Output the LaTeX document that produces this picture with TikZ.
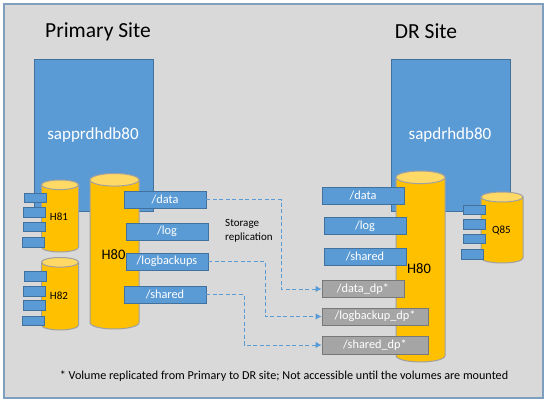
\documentclass[tikz,border=0pt]{standalone}
\usepackage{fontspec}
\setmainfont{Carlito}
\usetikzlibrary{arrows.meta}
\definecolor{hostblue}{HTML}{5B9BD5}
\definecolor{hostedge}{HTML}{41719C}
\definecolor{diskfill}{HTML}{FFC000}
\definecolor{disktop}{HTML}{FFD966}
\definecolor{diskedge}{HTML}{A0A0A0}
\definecolor{dpfill}{HTML}{A5A5A5}
\definecolor{dpedge}{HTML}{787878}
\definecolor{panelfill}{HTML}{D9D9D9}
\definecolor{paneledge}{HTML}{7F9FBF}
\definecolor{replline}{HTML}{5B9BD5}
\tikzset{
	hostbox/.style={draw=hostedge,fill=hostblue,line width=0.8pt,minimum width=119pt,minimum height=152pt,inner sep=0pt},
	diskbody/.style={draw=diskedge,fill=diskfill,line width=1pt},
	disktopface/.style={draw=diskedge,fill=disktop,line width=1pt},
	port/.style={draw=hostedge,fill=hostblue,line width=0.8pt,minimum width=22pt,minimum height=9.5pt,inner sep=0pt},
	volume/.style={draw=hostedge,fill=hostblue,line width=0.8pt,minimum width=82pt,minimum height=17pt,inner sep=0pt,text=white,font=\fontsize{12.3}{14}\selectfont},
	dpvol/.style={draw=dpedge,fill=dpfill,line width=0.8pt,minimum height=17pt,inner sep=0pt,text=white,font=\fontsize{12.3}{14}\selectfont},
	repl/.style={draw=replline,dash pattern=on 4pt off 2.5pt,line width=1pt,-{Latex[length=6pt,width=6.5pt,sep=0pt]}},
	heading/.style={font=\fontsize{21.5}{25}\selectfont,text=black,inner sep=0pt},
	disklabel/.style={font=\fontsize{11}{13}\selectfont,text=black,inner sep=0pt},
	biglabel/.style={font=\fontsize{14.5}{17}\selectfont,text=black,inner sep=0pt},
	hostname/.style={text=white,font=\fontsize{17}{20}\selectfont,inner sep=0pt},
}
% centre x, x radius, top y, bottom y, y radius of the ends
\newcommand{\drawdisk}[5]{
	\draw [diskbody] (#1-#2,#3+#5) -- (#1-#2,#4-#5) arc (180:0:#2 and #5) -- (#1+#2,#3+#5) -- cycle;
	\draw [disktopface] (#1,#3+#5) ellipse (#2 and #5);
}
\begin{document}
\begin{tikzpicture}[x=1pt,y=-1pt]
	\useasboundingbox (0,0) rectangle (548,404);
	\path [draw=paneledge,fill=panelfill,line width=1.2pt] (4,4) rectangle (543,398);
	\node [heading] (primary) at (98,31.5) {Primary Site};
	\node [heading] (drsite) at (426,31) {DR Site};
	\node [hostbox] (prdhost) at (93.5,135) {};
	\node [hostbox] (drhost) at (450.5,135) {};
	\node [hostname] (prdname) at (93,135) {sapprdhdb80};
	\node [hostname] (drname) at (450,135) {sapdrhdb80};
	% primary site disks
	\drawdisk{60}{18.5}{180}{252}{4.8}
	\drawdisk{60}{18.5}{257.5}{330}{4.8}
	\drawdisk{114.5}{24.5}{173.5}{329}{6.3}
	\foreach \n/\xx/\yy in {1/35/198,2/34/212.5,3/34/227,4/33/242.5}
		\node [port] (hostport\n) at (\xx,\yy) {};
	\foreach \n/\xx/\yy in {1/35/276.5,2/34/291.5,3/34/305.5,4/33/321}
		\node [port] (hostportb\n) at (\xx,\yy) {};
	\node [disklabel] (h81label) at (59,217) {H81};
	\node [disklabel] (h82label) at (59,296) {H82};
	\node [volume] (data) at (165,199.5) {/data};
	\node [volume] (log) at (167,231.5) {/log};
	\node [volume] (logbackups) at (167,261.5) {/logbackups};
	\node [volume] (shared) at (165,294.5) {/shared};
	\node [biglabel] (h80label) at (113.5,255) {H80};
	% DR site disks
	\drawdisk{420.5}{24.5}{171}{362}{6.3}
	\drawdisk{502}{21}{192}{263}{5}
	\foreach \n/\xx/\yy in {1/474.5/210,2/474.5/224.5,3/474.5/239,4/472.5/254.5}
		\node [port] (drport\n) at (\xx,\yy) {};
	\node [disklabel] (q85label) at (501.5,230) {Q85};
	\node [volume] (drdata) at (363,195.5) {/data};
	\node [volume] (drlog) at (365,226) {/log};
	\node [volume] (drshared) at (365,256.5) {/shared};
	\node [biglabel] (drh80label) at (419,269) {H80};
	\node [dpvol,minimum width=82pt] (datadp) at (363,289) {/data\_dp*};
	\node [dpvol,minimum width=106pt] (logdp) at (375,316.5) {/logbackup\_dp*};
	\node [dpvol,minimum width=106pt,minimum height=18pt] (shareddp) at (375,345) {/shared\_dp*};
	\draw [repl] (data.east) -| (281,289) -- (datadp.west);
	\draw [repl] (logbackups.east) -| (265,316.5) -- (logdp.west);
	\draw [repl] (shared.east) -| (244,345) -- (shareddp.west);
	\node [anchor=west,align=left,font=\fontsize{11}{14}\selectfont,inner sep=0pt] (storage) at (225,231) {Storage\\replication};
	\node [font=\fontsize{12.15}{14}\selectfont,inner sep=0pt] (footnote) at (284,376) {* Volume replicated from Primary to DR site; Not accessible until the volumes are mounted};
\end{tikzpicture}
\end{document}
